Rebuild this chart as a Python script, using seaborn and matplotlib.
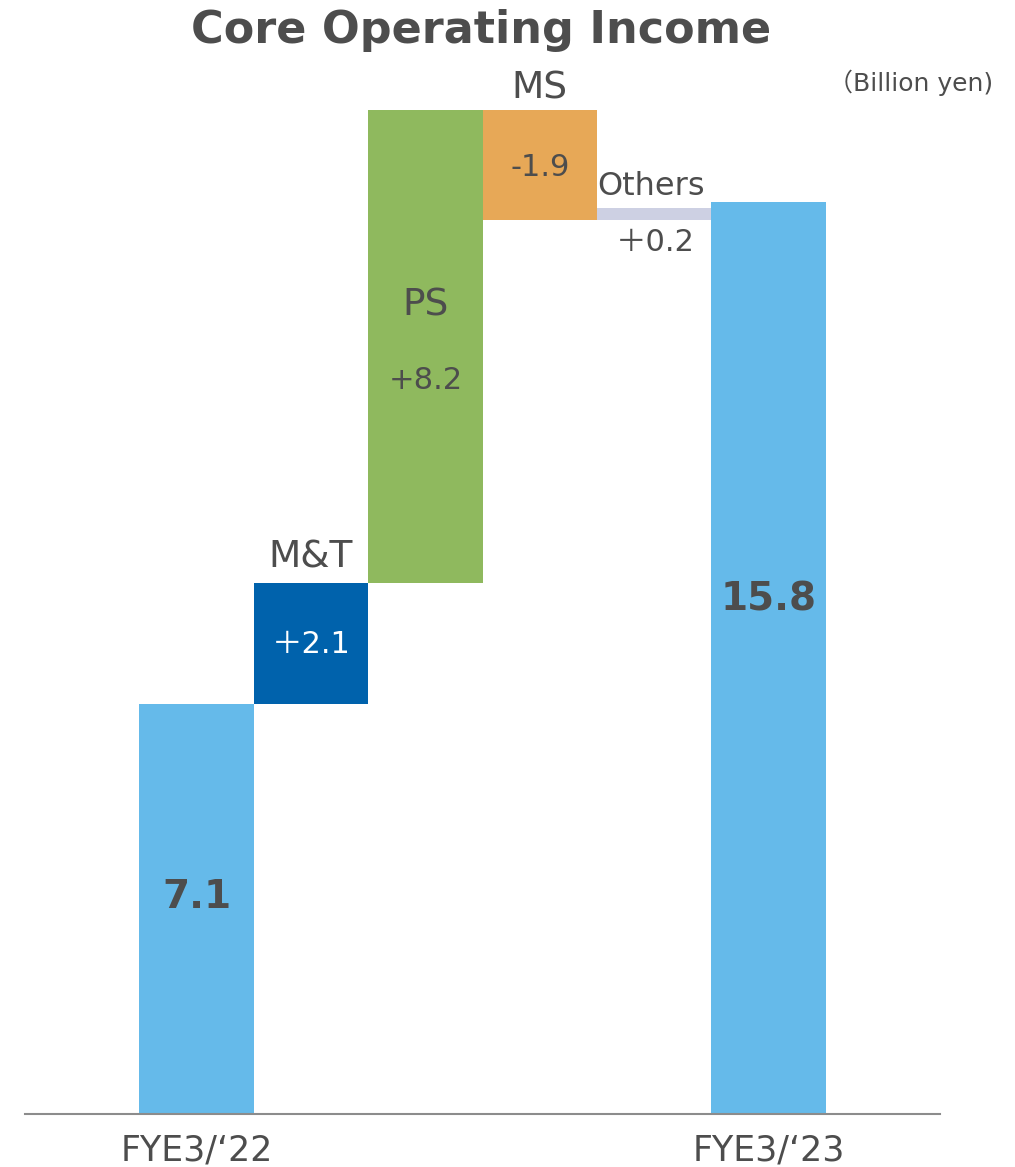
import numpy as np
import matplotlib
matplotlib.use("Agg")
import matplotlib.pyplot as plt
import seaborn as sns

# Данные (млрд иен)
steps = ["FYE3/‘22", "M&T", "PS", "MS", "Others", "FYE3/‘23"]
values = [7.1, 2.1, 8.2, -1.9, 0.2, 15.8]
value_labels = ["7.1", "＋2.1", "+8.2", "-1.9", "＋0.2", "15.8"]
colors = ["#65BAEA", "#0062AC", "#8FB95E", "#E7A857", "#CDD0E3", "#65BAEA"]
xtick_labels = ["FYE3/‘22", "", "", "", "", "FYE3/‘23"]

sns.set_theme(style="white")
plt.rcParams['font.family'] = ['DejaVu Sans', 'Noto Sans CJK JP']
txt = "#4D4D4D"

# начало каждого столбца: итоги от нуля, изменения от накопленной суммы
bottoms = []
run = 0.0
for i, v in enumerate(values):
    if i == 0 or i == len(values) - 1:
        bottoms.append(0.0)
        run = v
    else:
        bottoms.append(run if v >= 0 else run + v)
        run += v
heights = [abs(v) for v in values]
x = np.arange(len(steps))

fig = plt.figure(figsize=(10.15, 11.67), dpi=100)
ax = fig.add_axes([25 / 1015, 1 - 1114 / 1167, 915 / 1015, 1114 / 1167])
ax.bar(x, heights, bottom=bottoms, width=1.0, color=colors, linewidth=0)
ax.set_xlim(-1.5, 6.5)
ax.set_ylim(0, 19.31)
ax.set_yticks([])
ax.set_xticks(x)
ax.set_xticklabels(xtick_labels, fontsize=25, color=txt)
ax.tick_params(axis='x', length=0, pad=14)
for s in ["top", "left", "right"]:
    ax.spines[s].set_visible(False)
ax.spines["bottom"].set_color("#8C8C8C")
ax.spines["bottom"].set_linewidth(1.5)

# подписи
ax.text(0, 3.76, value_labels[0], ha='center', va='center', fontsize=28,
        fontweight='bold', color=txt)
ax.text(5, 8.91, value_labels[5], ha='center', va='center', fontsize=28,
        fontweight='bold', color=txt)
ax.text(1, 9.65, steps[1], ha='center', va='center', fontsize=27, color=txt)
ax.text(1, 8.13, value_labels[1], ha='center', va='center', fontsize=22, color='white')
ax.text(2, 14.02, steps[2], ha='center', va='center', fontsize=27, color=txt)
ax.text(2, 12.72, value_labels[2], ha='center', va='center', fontsize=22, color=txt)
ax.text(3, 17.78, steps[3], ha='center', va='center', fontsize=27, color=txt)
ax.text(3, 16.40, value_labels[3], ha='center', va='center', fontsize=22, color=txt)
ax.text(3.97, 16.08, steps[4], ha='center', va='center', fontsize=23, color=txt)
ax.text(4.01, 15.11, value_labels[4], ha='center', va='center', fontsize=22, color=txt)

fig.text(481 / 1015, 1 - 30 / 1167, "Core Operating Income", ha='center', va='center',
         fontsize=32, fontweight='bold', color=txt)
fig.text(993 / 1015, 1 - 83 / 1167, "（Billion yen)", ha='right', va='center',
         fontsize=18, color=txt)

fig.savefig("out.png", dpi=100)
